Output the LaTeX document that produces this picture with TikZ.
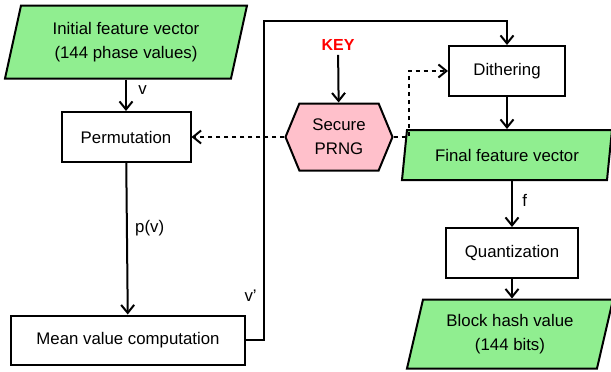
\documentclass[tikz,border=0pt]{standalone}
\usepackage{fontspec}
\setmainfont{Liberation Sans}
\usetikzlibrary{arrows.meta,positioning,shapes.geometric,shapes.symbols}

\definecolor{featgreen}{HTML}{90EE90}
\definecolor{prngpink}{HTML}{FFC0CB}

\begin{document}
\begin{tikzpicture}[x=1pt,y=-1pt,
       font=\fontsize{16.8}{24}\selectfont,
       line width=2pt,
       data/.style={
         trapezium,
         trapezium left angle=68,
         trapezium right angle=112,
         trapezium stretches body,
         draw=black,
         fill=featgreen,
         align=center,
         inner sep=0pt},
       proc/.style={rectangle, draw=black, fill=white, align=center, inner sep=0pt},
       rng/.style={
         signal,
         signal to=west and east,
         signal pointer angle=135,
         draw=black,
         fill=prngpink,
         align=center,
         inner sep=0pt,
         minimum width=107pt,
         minimum height=67pt},
       flow/.style={-{Straight Barb[length=8pt,width=13pt]}},
       keyflow/.style={flow, dash pattern=on 4.5pt off 3.5pt}
      ]
      \useasboundingbox (0,0) rectangle (611,372);

      % left column
      \node[data, minimum width=242pt, minimum height=73pt] (init) at (126,42) {Initial feature vector\\(144 phase values)};
      \node[proc, minimum width=129pt, minimum height=50pt] (perm) at (126,137) {Permutation};
      \node[proc, minimum width=234pt, minimum height=49pt] (mean) at (128,340) {Mean value computation};

      % key and generator
      \node[text=red, font=\fontsize{16}{20}\selectfont\bfseries] (key) at (338,45) {KEY};
      \node[rng] (prng) at (339,137) {Secure\\PRNG};

      % right column
      \node[proc, minimum width=116pt, minimum height=50pt] (dither) at (507,71) {Dithering};
      \node[data, minimum width=210pt, minimum height=50pt] (final) at (507,155) {Final feature vector};
      \node[proc, minimum width=132pt, minimum height=50pt] (quant) at (512,253) {Quantization};
      \node[data, minimum width=206pt, minimum height=69pt] (hash) at (510,334) {Block hash value\\(144 bits)};

      \coordinate (top) at (264,21);

      \draw[flow] (init) -- node[right=8pt, pos=0.35] {v} (perm);
      \draw[flow] (perm) -- node[right=4pt, pos=0.43] {p(v)} (mean);
      \draw[flow] (mean.east) -| node[left=3pt, pos=0.57] {v’} (top) -| (dither.north);
      \draw[flow] (key) -- (prng);
      \draw[keyflow] (prng.west) -- (perm.east);
      \draw[keyflow] (prng.east) -- ++(15,0) |- (dither.west);
      \draw[flow] (dither) -- (final);
      \draw[flow] (quant.north |- final.south) -- node[right=6pt, pos=0.42] {f} (quant.north);
      \draw[flow] (quant.south) -- (quant.south |- hash.north);

\end{tikzpicture}
\end{document}
